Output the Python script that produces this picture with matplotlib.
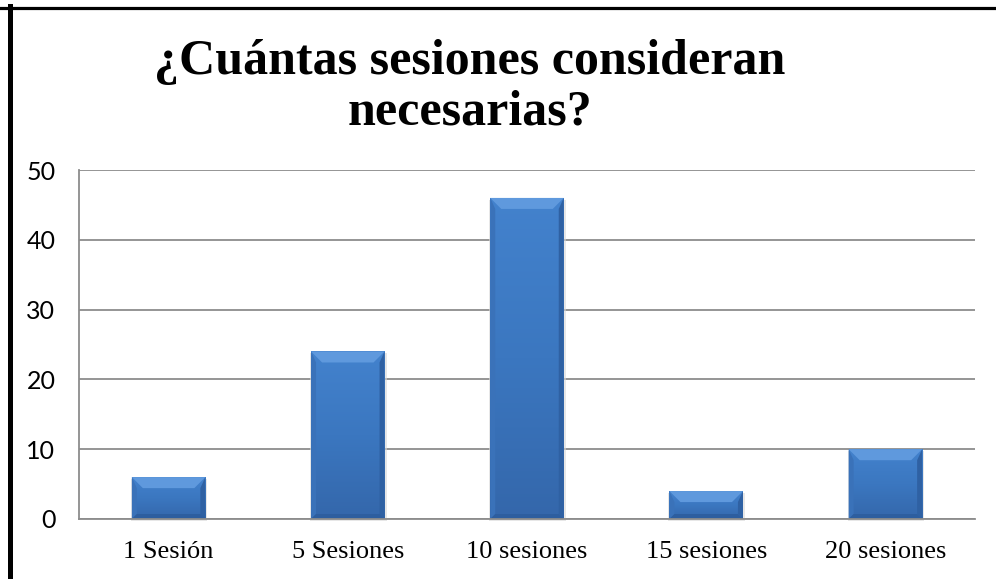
import numpy as np
import matplotlib.pyplot as plt
from matplotlib.colors import LinearSegmentedColormap
from matplotlib.patches import Rectangle, Polygon
from matplotlib.lines import Line2D

categories = ["1 Sesión", "5 Sesiones", "10 sesiones", "15 sesiones", "20 sesiones"]
values = [6, 24, 46, 4, 10]
y_ticks = [0, 10, 20, 30, 40, 50]
title = "¿Cuántas sesiones consideran\nnecesarias?"

W, H = 996, 579
fig = plt.figure(figsize=(W / 100, H / 100), dpi=100)
fig.patch.set_facecolor("white")

# plot area in pixels
left, right, top, bottom = 79, 975, 170, 519
ax = fig.add_axes([left / W, 1 - bottom / H, (right - left) / W, (bottom - top) / H])

n = len(categories)
ax.set_xlim(-0.5, n - 0.5)
ax.set_ylim(0, 50)

bar_w = 0.41
# bevel sizes in px converted to data units
px_x = n / (right - left)
px_y = 50 / (bottom - top)
tb_x, tb_y = 11 * px_x, 11 * px_y   # top bevel
sb_x = 5 * px_x                      # side bevel
bb_y = 5 * px_y                      # bottom bevel

face_cmap = LinearSegmentedColormap.from_list("face", ["#3467ab", "#3b77c0", "#4382cd"])
grad = np.linspace(0, 1, 100).reshape(-1, 1)

for i, v in enumerate(values):
    x0, x1 = i - bar_w / 2, i + bar_w / 2
    # soft shadow
    ax.add_patch(Rectangle((x0 - 1 * px_x, -2 * px_y), bar_w + 3 * px_x, v,
                           facecolor="#d8d8d8", edgecolor="none", alpha=0.6, zorder=2,
                           clip_on=False))
    rect = Rectangle((x0, 0), bar_w, v, facecolor="none", edgecolor="none")
    ax.add_patch(rect)
    im = ax.imshow(grad, extent=[x0, x1, 0, v], origin="lower", aspect="auto",
                   cmap=face_cmap, zorder=3, interpolation="bilinear")
    im.set_clip_path(rect)
    # left bevel
    ax.add_patch(Polygon([(x0, v), (x0 + sb_x, v - tb_y), (x0 + sb_x, bb_y), (x0, 0)],
                         closed=True, facecolor="#3a72b9", edgecolor="none", zorder=4))
    # right bevel
    ax.add_patch(Polygon([(x1, v), (x1 - sb_x, v - tb_y), (x1 - sb_x, bb_y), (x1, 0)],
                         closed=True, facecolor="#2f61a3", edgecolor="none", zorder=4))
    # bottom bevel
    ax.add_patch(Polygon([(x0, 0), (x1, 0), (x1 - sb_x, bb_y), (x0 + sb_x, bb_y)],
                         closed=True, facecolor="#2d5e9f", edgecolor="none", zorder=4))
    # top bevel (light)
    ax.add_patch(Polygon([(x0, v), (x1, v), (x1 - tb_x, v - tb_y), (x0 + tb_x, v - tb_y)],
                         closed=True, facecolor="#5f99dd", edgecolor="none", zorder=5))

ax.set_xlim(-0.5, n - 0.5)
ax.set_ylim(0, 50)

ax.set_yticks(y_ticks)
ax.set_yticklabels([str(t) for t in y_ticks], fontfamily="Lato", fontsize=18)
ax.set_xticks(range(n))
ax.set_xticklabels(categories, fontfamily="Liberation Serif", fontsize=19)
ax.tick_params(axis="both", length=0)
ax.tick_params(axis="y", pad=17)
ax.tick_params(axis="x", pad=16)

ax.yaxis.grid(True, color="#8c8c8c", linewidth=1.3)
ax.set_axisbelow(True)
for s in ["top", "right"]:
    ax.spines[s].set_visible(False)
for s in ["left", "bottom"]:
    ax.spines[s].set_color("#8c8c8c")
    ax.spines[s].set_linewidth(1.3)
    ax.spines[s].set_zorder(6)

fig.text(470 / W, 1 - 87 / H, title, ha="center", va="center",
         fontfamily="Liberation Serif", fontweight="bold", fontsize=36,
         linespacing=1.14)

# outer border (top and left visible)
fig.add_artist(Line2D([0, 1], [1 - 7.5 / H, 1 - 7.5 / H], transform=fig.transFigure,
                      color="black", linewidth=2.3))
fig.add_artist(Line2D([9.8 / W, 9.8 / W], [0, 1 - 6 / H], transform=fig.transFigure,
                      color="black", linewidth=3.6))

fig.savefig("out.png", dpi=100)
